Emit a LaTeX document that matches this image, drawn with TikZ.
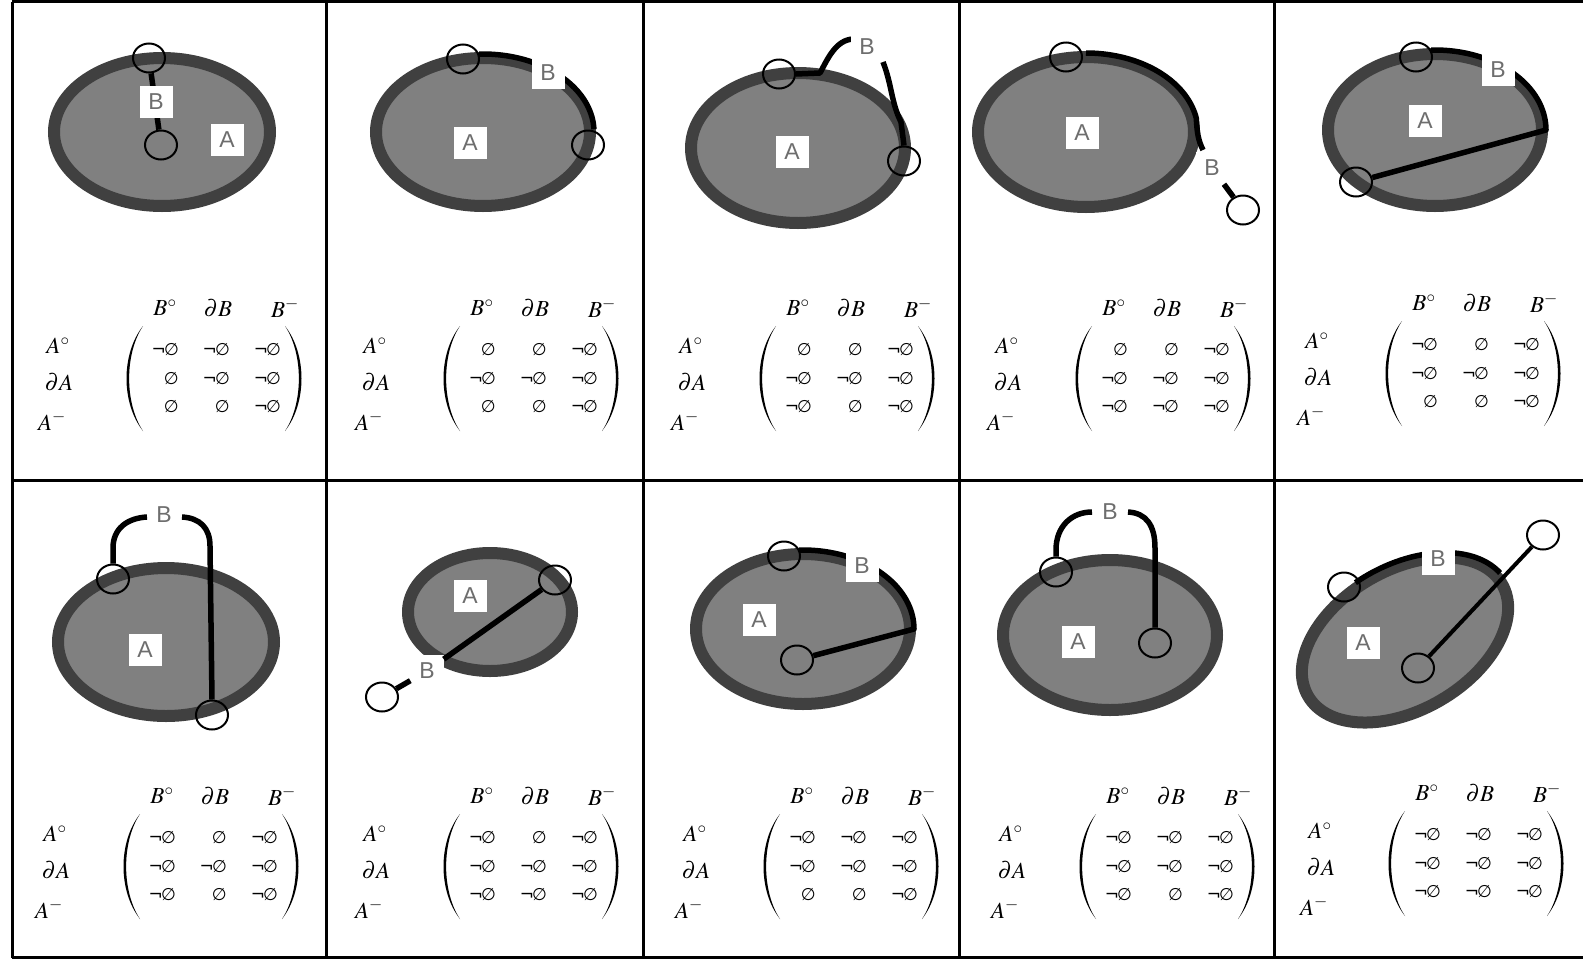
\documentclass[tikz,border=0pt]{standalone}
\usepackage[no-math]{fontspec}
\usepackage{mathptmx}
\newfontfamily\labfont{Liberation Sans}
\newfontfamily\symf{DejaVu Sans}
\usetikzlibrary{shapes.geometric}
\definecolor{ringgray}{HTML}{404040}
\definecolor{fillgray}{HTML}{808080}
\definecolor{labtext}{HTML}{6E6E6E}
\tikzset{
  gridl/.style={line width=3pt, black},
  ringshape/.style={draw=ringgray, line width=12pt, fill=fillgray},
  bline/.style={line width=5.5pt, black, line join=round},
  thinb/.style={line width=4pt, black},
  endc/.style={ellipse, draw=black, line width=2pt, minimum width=32pt, minimum height=29pt, inner sep=0pt},
  lab/.style={fill=white, text=labtext, font=\labfont\fontsize{23pt}{23pt}\selectfont, minimum width=33pt, minimum height=32pt, inner sep=0pt},
  hd/.style={inner sep=0pt, font=\fontsize{23pt}{23pt}\selectfont},
  ent/.style={anchor=east, inner sep=0pt, font=\symf\fontsize{17pt}{17pt}\selectfont},
}
\newcommand\mymat[4]{%
  \begin{scope}[shift={(#2,#3)}]
    \node[hd] (#1hB1) at (0,0) {$B^{\circ}$};
    \node[hd] (#1hB2) at (53,0) {$\partial B$};
    \node[hd] (#1hB3) at (120,0) {$B^{-}$};
    \node[hd] (#1hA1) at (-107,38) {$A^{\circ}$};
    \node[hd] (#1hA2) at (-106,74) {$\partial A$};
    \node[hd] (#1hA3) at (-113,113) {$A^{-}$};
    \fill (-22,18) .. controls (-44,46) and (-44,95) .. (-22,123) .. controls (-40.5,95) and (-40.5,46) .. cycle;
    \fill (120,18) .. controls (142,46) and (142,95) .. (120,123) .. controls (138.5,95) and (138.5,46) .. cycle;
    \foreach \v [count=\i from 0] in {#4} {
      \pgfmathtruncatemacro\rr{div(\i,3)}
      \pgfmathtruncatemacro\cc{mod(\i,3)}
      \node[ent] (#1e\i) at ({14+51*\cc},{42+28.5*\rr}) {\if n\v ¬\kern-2pt∅\else ∅\fi};
    }
  \end{scope}}
\begin{document}
\begin{tikzpicture}[x=1pt,y=-1pt]
\useasboundingbox (0,0) rectangle (1583,959);
% grid
\draw[gridl] (12,1.5) -- (1595,1.5);
\draw[gridl] (12,480) -- (1595,480);
\draw[gridl] (12,957.5) -- (1595,957.5);
\foreach \gx in {12,326,643,959,1274} { \draw[gridl] (\gx,1.5) -- (\gx,957.5); }

% ---------- panel 1
\draw[ringshape] (162,132) ellipse[x radius=108pt, y radius=74pt];
\node[endc] (p1c1) at (149,58) {};
\node[endc] (p1c2) at (161,145) {};
\draw[bline] (p1c1) -- (p1c2);
\node[lab] (p1B) at (156,102) {B};
\node[lab] (p1A) at (227,140) {A};
\mymat{m1}{165}{308}{n,n,n,e,n,n,e,e,n}

% ---------- panel 2
\draw[ringshape] (483,132) ellipse[x radius=107pt, y radius=74pt];
\node[endc] (p2c1) at (463,59) {};
\node[endc] (p2c2) at (588,145) {};
\draw[bline] plot[domain=268:358, samples=40] ({483+111*cos(\x)},{132+78*sin(\x)});
\node[lab] (p2B) at (548,73) {B};
\node[lab] (p2A) at (470,143) {A};
\mymat{m2}{482}{308}{e,e,n,n,n,n,e,e,n}

% ---------- panel 3
\draw[ringshape] (798,148) ellipse[x radius=107pt, y radius=75pt];
\node[endc] (p3c1) at (779,74) {};
\node[endc] (p3c2) at (904,161) {};
\draw[bline] (p3c1.east) -- (820,73) .. controls (828,58) and (836,40) .. (853,39);
\node[lab] (p3B) at (867,47) {B};
\draw[bline] (883,62) .. controls (892,85) and (891,102) .. (901,122) -- (p3c2.north);
\node[lab] (p3A) at (792,152) {A};
\mymat{m3}{798}{308}{e,e,n,n,n,n,n,e,n}

% ---------- panel 4
\draw[ringshape] (1086,132) ellipse[x radius=108pt, y radius=75pt];
\node[endc] (p4c1) at (1066,57) {};
\node[endc] (p4c2) at (1243,210) {};
\draw[bline] plot[domain=270:350, samples=40] ({1086+112*cos(\x)},{132+79*sin(\x)}) .. controls (1197,132) and (1198,140) .. (1203,150);
\node[lab] (p4B) at (1212,168) {B};
\draw[bline] (p4B) -- (p4c2);
\node[lab] (p4A) at (1082,133) {A};
\mymat{m4}{1114}{308}{e,e,n,n,n,n,n,n,n}

% ---------- panel 5
\draw[ringshape] (1435,130) ellipse[x radius=107pt, y radius=76pt];
\node[endc] (p5c1) at (1416,57) {};
\node[endc] (p5c2) at (1356,182) {};
\draw[bline] plot[domain=268:360, samples=40] ({1435+111*cos(\x)},{130+80*sin(\x)}) -- (p5c2);
\node[lab] (p5B) at (1498,70) {B};
\node[lab] (p5A) at (1425,121) {A};
\mymat{m5}{1424}{303}{n,e,n,n,n,n,e,e,n}

% ---------- panel 6
\draw[ringshape] (166,642) ellipse[x radius=108pt, y radius=74pt];
\node[endc] (p6c1) at (113,579) {};
\node[endc] (p6c2) at (212,715) {};
\draw[bline] (p6c1.north) -- (113,548) .. controls (113,528) and (128,518) .. (147,517);
\node[lab] (p6B) at (164,515) {B};
\draw[bline] (182,517) .. controls (200,518) and (210,528) .. (210,546) -- (p6c2.north);
\node[lab] (p6A) at (145,650) {A};
\mymat{m6}{162}{796}{n,e,n,n,n,n,n,e,n}

% ---------- panel 7
\draw[ringshape] (490,612) ellipse[x radius=82pt, y radius=59pt];
\node[endc] (p7c1) at (555,580) {};
\node[endc] (p7c2) at (382,697) {};
\node[lab] (p7B) at (427,671) {B};
\draw[bline] (p7c1) -- (p7B);
\draw[bline] (p7B) -- (p7c2);
\node[lab] (p7A) at (470,596) {A};
\mymat{m7}{482}{796}{n,e,n,n,n,n,n,n,n}

% ---------- panel 8
\draw[ringshape] (803,629) ellipse[x radius=107pt, y radius=75pt];
\node[endc] (p8c1) at (784,556) {};
\node[endc] (p8c2) at (797,660) {};
\draw[bline] plot[domain=268:360, samples=40] ({803+111*cos(\x)},{629+79*sin(\x)}) -- (p8c2);
\node[lab] (p8B) at (862,566) {B};
\node[lab] (p8A) at (759,620) {A};
\mymat{m8}{802}{796}{n,n,n,n,n,n,e,e,n}

% ---------- panel 9
\draw[ringshape] (1110,635) ellipse[x radius=107pt, y radius=75pt];
\node[endc] (p9c1) at (1056,572) {};
\node[endc] (p9c2) at (1155,643) {};
\draw[bline] (p9c1.north) -- (1056,550) .. controls (1056,526) and (1072,512) .. (1092,512);
\node[lab] (p9B) at (1110,512) {B};
\draw[bline] (1128,512) .. controls (1146,513) and (1155,525) .. (1155,548) -- (p9c2.north);
\node[lab] (p9A) at (1078,642) {A};
\mymat{m9}{1118}{796}{n,n,n,n,n,n,n,e,n}

% ---------- panel 10
\draw[ringshape, rotate around={30:(1405,640)}] (1405,640) ellipse[x radius=112pt, y radius=70pt];
\node[endc] (p10c1) at (1344,587) {};
\node[endc] (p10c2) at (1543,535) {};
\node[endc] (p10c3) at (1418,668) {};
\draw[bline] plot[domain=263:352, samples=40] ({1405+117*cos(\x)*cos(30)+75*sin(\x)*sin(30)},{640-117*cos(\x)*sin(30)+75*sin(\x)*cos(30)});
\node[lab] (p10B) at (1438,559) {B};
\draw[thinb] (p10c3) -- (p10c2);
\node[lab] (p10A) at (1363,643) {A};
\mymat{m10}{1427}{793}{n,n,n,n,n,n,n,n,n}
\end{tikzpicture}
\end{document}
